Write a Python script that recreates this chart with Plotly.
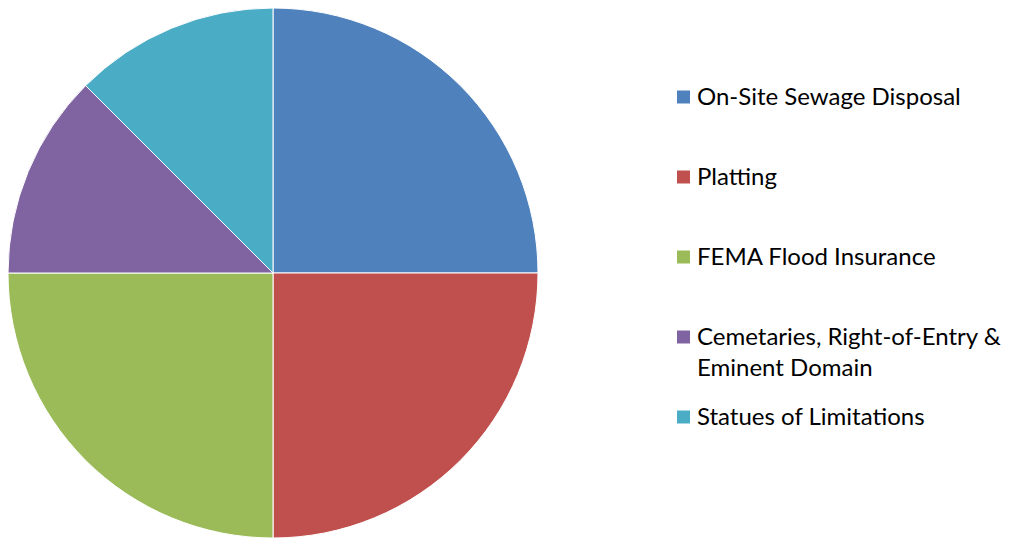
import plotly.graph_objects as go

W, H = 1014, 538
OFF = 8  # page body margin in the browser

labels = [
    "On-Site Sewage Disposal",
    "Platting",
    "FEMA Flood Insurance",
    "Cemetaries, Right-of-Entry &<br>Eminent Domain",
    "Statues of Limitations",
]
values = [2, 2, 2, 1, 1]
colors = ["#4F81BD", "#C0504D", "#9BBB59", "#8064A2", "#4BACC6"]

fig = go.Figure(go.Pie(
    labels=labels,
    values=values,
    sort=False,
    direction="clockwise",
    rotation=0,
    marker=dict(colors=colors, line=dict(color="white", width=1)),
    textinfo="none",
    hoverinfo="label+percent",
    showlegend=False,
    domain=dict(x=[0, 530 / W], y=[8 / H, 1]),
))

# hand-made legend to match the wide spacing of the original
font = dict(family="Lato, Open Sans, sans-serif", size=24, color="#000000")
for i, (lab, col) in enumerate(zip(labels, colors)):
    yc = 97 + 80 * i - OFF  # pixel centre of first line
    fig.add_shape(
        type="rect", xref="paper", yref="paper",
        x0=(677 - OFF) / W, x1=(690 - OFF) / W,
        y0=(H - yc - 6.5) / H, y1=(H - yc + 6.5) / H,
        fillcolor=col, line=dict(width=0),
    )
    fig.add_annotation(
        text=lab, xref="paper", yref="paper",
        x=(697 - OFF - 2) / W, y=(H - yc + 18) / H,
        xanchor="left", yanchor="top", align="left",
        showarrow=False, font=font,
    )

fig.update_layout(
    width=W, height=H,
    margin=dict(l=0, r=0, t=0, b=0),
    paper_bgcolor="white",
    plot_bgcolor="white",
)

fig.write_html("out.html")
